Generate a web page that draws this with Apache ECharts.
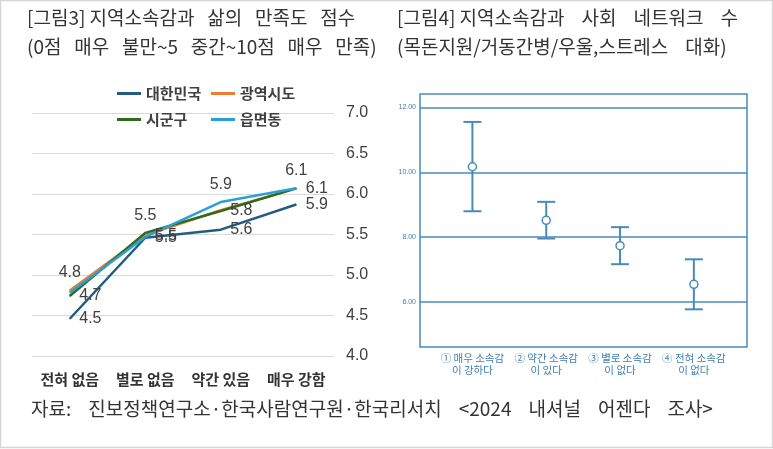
<!DOCTYPE html>
<html>
<head>
<meta charset="utf-8">
<script src="https://cdn.jsdelivr.net/npm/echarts@6/dist/echarts.min.js"></script>
<style>
  html, body { margin: 0; padding: 0; background: #fff; }
  #chart { width: 773px; height: 449px; }
</style>
</head>
<body>
<div id="chart"></div>
<script>
// left chart: life satisfaction by sense of belonging
const levels = ['전혀 없음', '별로 없음', '약간 있음', '매우 강함']
const korea = [4.46, 5.46, 5.56, 5.87]
const metro = [4.81, 5.49, 5.80, 6.07]
const district = [4.74, 5.52, 5.79, 6.07]
const town = [4.78, 5.47, 5.90, 6.07]
const satTicks = [4.0, 4.5, 5.0, 5.5, 6.0, 6.5, 7.0]

// right chart: social network size, mean with 95% CI
const groups = ['① 매우 소속감\n이 강하다', '② 약간 소속감\n이 있다', '③ 별로 소속감\n이 없다', '④ 전혀 소속감\n이 없다']
const netMean = [10.17, 8.52, 7.74, 6.55]
const netLow = [8.80, 7.96, 7.17, 5.78]
const netHigh = [11.55, 9.09, 8.31, 7.32]
const netTicks = [6, 8, 10, 12]

const chart = echarts.init(document.querySelector('#chart'), null, { renderer: 'canvas' })

const txt = '#404040'
const blue = '#4a8ab8'

// pos: where each point's value label sits ('' = no label), as in the original
function lineSeries(name, data, color, pos) {
  return {
    name: name,
    type: 'line',
    xAxisIndex: 0,
    yAxisIndex: 0,
    data: data.map((v, j) => ({
      value: v,
      label: { show: pos[j] !== '', position: pos[j] || 'right' }
    })),
    symbol: 'circle',
    symbolSize: 1,
    showSymbol: true,
    lineStyle: { color: color, width: 2.5 },
    itemStyle: { color: color },
    label: {
      show: true,
      formatter: p => p.value.toFixed(1),
      fontFamily: 'Liberation Sans, Arial, sans-serif',
      fontSize: 16,
      color: txt,
      distance: 9
    },
    z: 3
  }
}

const legendText = {
  fontFamily: 'Noto Sans CJK KR, sans-serif',
  fontSize: 15,
  fontWeight: 'bold',
  color: txt
}
const titleFont = '19px "Noto Sans CJK KR"'
const words = (arr, n) => arr.join(' '.repeat(n))

const option = {
  backgroundColor: '#fff',
  animation: false,
  graphic: [
    {
      type: 'rect',
      shape: { x: 0.5, y: 0.5, width: 772, height: 447 },
      style: { fill: 'none', stroke: '#d6d6d6', lineWidth: 1.5 }
    },
    { type: 'text', left: 27, top: 8, style: { text: words(['[그림3] 지역소속감과', '삶의', '만족도', '점수'], 3), font: titleFont, fill: '#333' } },
    { type: 'text', left: 27, top: 37, style: { text: words(['(0점', '매우', '불만~5', '중간~10점', '매우', '만족)'], 3), font: titleFont, fill: '#333' } },
    { type: 'text', left: 397, top: 8, style: { text: words(['[그림4] 지역소속감과', '사회', '네트워크', '수'], 4), font: titleFont, fill: '#333' } },
    { type: 'text', left: 397, top: 37, style: { text: words(['(목돈지원/거동간병/우울,스트레스', '대화)'], 4), font: titleFont, fill: '#333' } },
    { type: 'text', left: 31, top: 399, style: { text: words(['자료:', '진보정책연구소·한국사람연구원·한국리서치', '<2024', '내셔널', '어젠다', '조사>'], 4), font: titleFont, fill: '#333' } }
  ],
  legend: [
    {
      data: ['대한민국', '시군구'],
      orient: 'vertical',
      left: 112, top: 81,
      itemWidth: 24, itemHeight: 3, itemGap: 11,
      icon: 'rect',
      textStyle: legendText
    },
    {
      data: ['광역시도', '읍면동'],
      orient: 'vertical',
      left: 206, top: 81,
      itemWidth: 24, itemHeight: 3, itemGap: 11,
      icon: 'rect',
      textStyle: legendText
    }
  ],
  grid: [
    { left: 32, top: 113, width: 302, height: 243 },
    { left: 420, top: 94, width: 327, height: 253, show: true, borderColor: blue, borderWidth: 1.5, backgroundColor: '#fff' }
  ],
  xAxis: [
    {
      gridIndex: 0,
      type: 'category',
      data: levels,
      boundaryGap: true,
      axisLine: { show: false },
      axisTick: { show: false },
      axisLabel: {
        interval: 0,
        margin: 16,
        fontFamily: 'Noto Sans CJK KR, sans-serif',
        fontSize: 15,
        fontWeight: 'bold',
        color: '#333'
      }
    },
    {
      gridIndex: 1,
      type: 'value',
      min: 0.29,
      max: 4.72,
      splitLine: { show: false },
      axisLine: { show: false },
      axisTick: { show: false },
      axisLabel: {
        customValues: [1, 2, 3, 4],
        formatter: v => groups[Math.round(v) - 1] || '',
        margin: 5,
        lineHeight: 12,
        fontFamily: 'Noto Sans CJK KR, sans-serif',
        fontSize: 10.5,
        color: '#3f7db0'
      }
    }
  ],
  yAxis: [
    {
      gridIndex: 0,
      type: 'value',
      position: 'right',
      min: satTicks[0],
      max: satTicks[satTicks.length - 1],
      interval: 0.5,
      axisLine: { show: false },
      axisTick: { show: false },
      splitLine: { lineStyle: { color: '#d9d9d9', width: 1 } },
      axisLabel: {
        margin: 12,
        formatter: v => v.toFixed(1),
        fontFamily: 'Liberation Sans, Arial, sans-serif',
        fontSize: 16,
        color: txt
      }
    },
    {
      gridIndex: 1,
      type: 'value',
      min: 4.62,
      max: 12.41,
      axisLine: { show: false },
      axisTick: { show: false },
      splitLine: { show: false },
      axisLabel: {
        customValues: netTicks,
        formatter: v => v.toFixed(2),
        margin: 4,
        fontFamily: 'Liberation Sans, Arial, sans-serif',
        fontSize: 7,
        color: '#3f7db0'
      }
    }
  ],
  series: [
    lineSeries('대한민국', korea, '#215d83', ['right', 'right', 'right', 'right']),
    lineSeries('광역시도', metro, '#ed7d31', ['top', 'right', 'right', 'right']),
    lineSeries('시군구', district, '#2f6b1f', ['right', 'top', '', 'top']),
    lineSeries('읍면동', town, '#2aa0d8', ['', '', 'top', '']),
    {
      type: 'custom',
      name: 'ci',
      xAxisIndex: 1,
      yAxisIndex: 1,
      data: netMean.map((m, i) => [i + 1, netLow[i], netHigh[i]]),
      renderItem: function (params, api) {
        const lo = api.coord([api.value(0), api.value(1)])
        const hi = api.coord([api.value(0), api.value(2)])
        const w = 9
        const st = { stroke: blue, lineWidth: 2 }
        return {
          type: 'group',
          children: [
            { type: 'line', shape: { x1: lo[0], y1: lo[1], x2: hi[0], y2: hi[1] }, style: st },
            { type: 'line', shape: { x1: lo[0] - w, y1: lo[1], x2: lo[0] + w, y2: lo[1] }, style: st },
            { type: 'line', shape: { x1: hi[0] - w, y1: hi[1], x2: hi[0] + w, y2: hi[1] }, style: st }
          ]
        }
      },
      z: 3,
      markLine: {
        silent: true,
        symbol: 'none',
        label: { show: false },
        lineStyle: { color: blue, width: 1.5, type: 'solid' },
        data: netTicks.map(t => ({ yAxis: t }))
      }
    },
    {
      type: 'scatter',
      name: 'mean',
      xAxisIndex: 1,
      yAxisIndex: 1,
      data: netMean.map((m, i) => [i + 1, m]),
      symbol: 'circle',
      symbolSize: 8,
      itemStyle: { color: '#fff', borderColor: blue, borderWidth: 1.5, opacity: 1 },
      z: 4
    }
  ]
}

chart.setOption(option)
</script>
</body>
</html>
